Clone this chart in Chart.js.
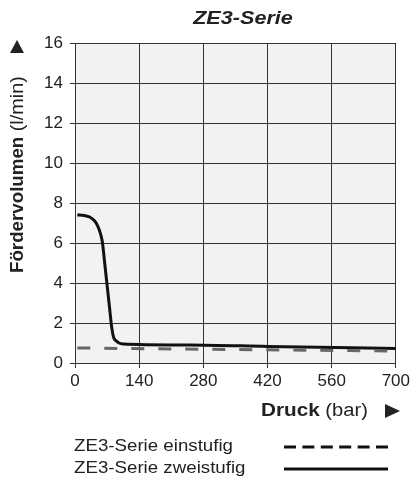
<!DOCTYPE html>
<html>
<head>
<meta charset="utf-8">
<script src="https://cdn.jsdelivr.net/npm/chart.js@4"></script>
<style>
  html, body { margin: 0; padding: 0; background: #fff; }
  #wrap { width: 413px; height: 481px; position: relative; }
</style>
</head>
<body>
<div id="wrap"><canvas id="chart" width="413" height="481"></canvas></div>
<script>
const titleText = "ZE3-Serie";
const xTicks = [0, 140, 280, 420, 560, 700];
const yTicks = [0, 2, 4, 6, 8, 10, 12, 14, 16];

const zweiX = [5, 20, 32, 42, 48, 53, 57, 60, 65, 70, 75, 80, 84, 89, 96, 105, 250, 420, 700];
const zweiY = [7.4, 7.38, 7.3, 7.12, 6.92, 6.65, 6.35, 6.0, 4.95, 3.9, 2.85, 1.8, 1.3, 1.12, 1.0, 0.95, 0.9, 0.83, 0.72];
const einX = [5, 700];
const einY = [0.75, 0.6];

const legendLabels = ["ZE3-Serie einstufig", "ZE3-Serie zweistufig"];

const FONT = "'Liberation Sans', Arial, Helvetica, sans-serif";
const textColor = "#222";

function toPoints(xs, ys) {
  return xs.map((x, i) => ({ x, y: ys[i] }));
}

// draws text stretched horizontally, returns drawn width
function stretchText(ctx, text, x, y, font, sx, align) {
  ctx.save();
  ctx.font = font;
  const w = ctx.measureText(text).width * sx;
  let left = x;
  if (align === "center") left = x - w / 2;
  ctx.translate(left, y);
  ctx.scale(sx, 1);
  ctx.textAlign = "left";
  ctx.fillText(text, 0, 0);
  ctx.restore();
  return w;
}

const decorations = {
  id: "decorations",
  beforeDraw(chart) {
    const { ctx, chartArea: a } = chart;
    ctx.save();
    ctx.fillStyle = "#f2f2f2";
    ctx.fillRect(a.left, a.top, a.right - a.left, a.bottom - a.top);
    ctx.restore();
  },
  afterDraw(chart) {
    const ctx = chart.ctx;
    ctx.save();
    ctx.fillStyle = textColor;
    ctx.textBaseline = "middle";

    // title
    stretchText(ctx, titleText, 243, 19, "italic bold 18px " + FONT, 1.2, "center");

    // y axis title (rotated)
    ctx.save();
    ctx.translate(18, 0);
    ctx.rotate(-Math.PI / 2);
    const wb = stretchText(ctx, "Fördervolumen", -273, 0, "bold 18px " + FONT, 1.04);
    stretchText(ctx, " (l/min)", -273 + wb, 0, "18px " + FONT, 1.1);
    ctx.restore();
    ctx.beginPath();
    ctx.moveTo(17, 40);
    ctx.lineTo(24, 53);
    ctx.lineTo(10, 53);
    ctx.closePath();
    ctx.fill();

    // x axis title
    const wd = stretchText(ctx, "Druck", 261, 411, "bold 18px " + FONT, 1.15);
    stretchText(ctx, " (bar)", 261 + wd, 411, "18px " + FONT, 1.12);
    ctx.beginPath();
    ctx.moveTo(385, 404);
    ctx.lineTo(400, 411);
    ctx.lineTo(385, 418);
    ctx.closePath();
    ctx.fill();

    // legend
    stretchText(ctx, legendLabels[0], 74, 446, "17px " + FONT, 1.1);
    stretchText(ctx, legendLabels[1], 74, 468, "17px " + FONT, 1.1);
    ctx.strokeStyle = "#111";
    ctx.lineWidth = 3;
    ctx.setLineDash([12, 6.4]);
    ctx.beginPath();
    ctx.moveTo(284, 447);
    ctx.lineTo(388, 447);
    ctx.stroke();
    ctx.setLineDash([]);
    ctx.beginPath();
    ctx.moveTo(284, 469);
    ctx.lineTo(388, 469);
    ctx.stroke();
    ctx.restore();
  }
};

new Chart(document.getElementById("chart"), {
  type: "line",
  data: {
    datasets: [
      {
        label: legendLabels[0],
        data: toPoints(einX, einY),
        borderColor: "#666",
        borderWidth: 3,
        borderDash: [13, 14],
        pointRadius: 0,
        fill: false,
      },
      {
        label: legendLabels[1],
        data: toPoints(zweiX, zweiY),
        borderColor: "#111",
        borderWidth: 3,
        cubicInterpolationMode: "monotone",
        pointRadius: 0,
        fill: false,
      },
    ],
  },
  options: {
    responsive: false,
    animation: false,
    devicePixelRatio: 1,
    layout: { padding: { top: 43, right: 16, left: 0, bottom: 0 } },
    plugins: {
      legend: { display: false },
      title: { display: false },
      tooltip: { enabled: false },
    },
    scales: {
      x: {
        type: "linear",
        min: 0,
        max: 700,
        afterBuildTicks: (scale) => { scale.ticks = xTicks.map((v) => ({ value: v })); },
        afterFit: (scale) => { scale.height = 118; },
        grid: { color: "#333", lineWidth: 1, tickLength: 5 },
        border: { color: "#333", width: 1 },
        ticks: { color: textColor, font: { family: FONT, size: 17 }, padding: 3, maxRotation: 0 },
      },
      y: {
        min: 0,
        max: 16,
        afterBuildTicks: (scale) => { scale.ticks = yTicks.map((v) => ({ value: v })); },
        afterFit: (scale) => { scale.width = 75; },
        grid: { color: "#333", lineWidth: 1, tickLength: 5 },
        border: { color: "#333", width: 1 },
        ticks: { color: textColor, font: { family: FONT, size: 17 }, padding: 7 },
      },
    },
  },
  plugins: [decorations],
});
</script>
</body>
</html>
